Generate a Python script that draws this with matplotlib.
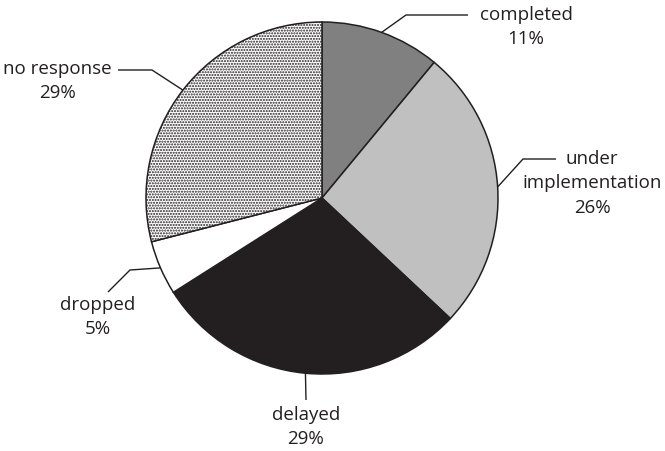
import numpy as np
import matplotlib
matplotlib.use("Agg")
import matplotlib.pyplot as plt

plt.rcParams['font.family'] = ['Open Sans', 'DejaVu Sans']
plt.rcParams['hatch.linewidth'] = 1.0
plt.rcParams['hatch.color'] = '#231f20'

# data
labels = ['completed', 'under\nimplementation', 'delayed', 'dropped', 'no response']
shares = [11, 26, 29, 5, 29]
colors = ['#808080', '#c0c0c0', '#231f20', '#ffffff', '#ffffff']
hatches = [None, None, None, None, '......']

# layout in pixels from top-left (figure is 665x451 at dpi 100)
H = 451
cx, cy, R = 322, 198, 176
elbows = [(406, 15), (523, 159), None, (130, 270), (152, 70)]
ends = [(468, 15), (556, 159), (306, 400), (108, 292), (118, 70)]
text_xy = [(526, 15), (592, 159), (306, 415), (98, 305), (57, 69)]


def px(p):
    return (p[0], H - p[1])


fig = plt.figure(figsize=(6.65, 4.51), dpi=100)
ax = fig.add_axes([0, 0, 1, 1])

wedges, _ = ax.pie(shares, colors=colors, startangle=90, counterclock=False,
                   center=px((cx, cy)), radius=R, frame=True,
                   wedgeprops=dict(edgecolor='#231f20', linewidth=1.1))
for w, h in zip(wedges, hatches):
    if h:
        w.set_hatch(h)
ax.set_xlim(0, 665)
ax.set_ylim(0, H)
ax.set_aspect('equal')
ax.axis('off')

c = px((cx, cy))
for w, lab, pct, el, en, t in zip(wedges, labels, shares, elbows, ends, text_xy):
    mid = np.deg2rad((w.theta1 + w.theta2) / 2)
    start = (c[0] + R * np.cos(mid), c[1] + R * np.sin(mid))
    pts = [start] + ([px(el)] if el else []) + [px(en)]
    xs, ys = zip(*pts)
    ax.plot(xs, ys, color='#231f20', lw=1.0, solid_capstyle='butt')
    tx, ty = px(t)
    lines = lab.split('\n') + ['%d%%' % pct]
    for i, s in enumerate(lines):
        ax.text(tx, ty - i * 24.5, s, ha='center', va='center',
                fontsize=13.5, color='#231f20')

fig.savefig('out.png', dpi=100)
